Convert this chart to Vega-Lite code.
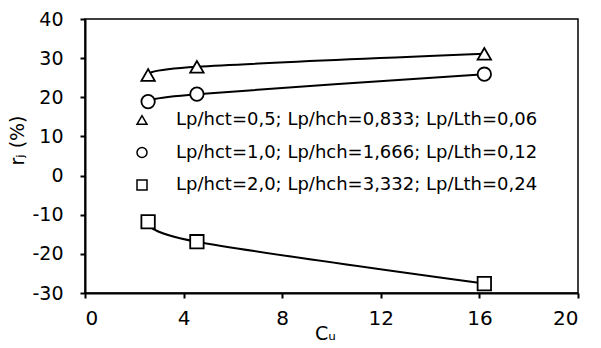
{
  "$schema": "https://vega.github.io/schema/vega-lite/v6.json",
  "autosize": {"type": "none"},
  "width": 493,
  "height": 274,
  "padding": {"left": 85, "top": 19, "right": 23, "bottom": 55},
  "background": "white",
  "config": {
    "view": {"stroke": "black", "strokeWidth": 1.5},
    "font": "DejaVu Sans",
    "axis": {
      "grid": false,
      "domainColor": "black",
      "domainWidth": 2,
      "tickColor": "black",
      "tickWidth": 2,
      "tickSize": 5,
      "labelColor": "black",
      "labelFont": "DejaVu Sans",
      "labelFontSize": 19,
      "titleFont": "DejaVu Sans",
      "titleFontSize": 19,
      "titleFontWeight": "normal",
      "titleColor": "black"
    }
  },
  "data": {
    "values": [
      {"series": "Lp/hct=0,5; Lp/hch=0,833; Lp/Lth=0,06", "cu": 2.56, "rj": 25.7},
      {"series": "Lp/hct=0,5; Lp/hch=0,833; Lp/Lth=0,06", "cu": 4.54, "rj": 27.8},
      {"series": "Lp/hct=0,5; Lp/hch=0,833; Lp/Lth=0,06", "cu": 16.2, "rj": 31.1},
      {"series": "Lp/hct=1,0; Lp/hch=1,666; Lp/Lth=0,12", "cu": 2.56, "rj": 18.9},
      {"series": "Lp/hct=1,0; Lp/hch=1,666; Lp/Lth=0,12", "cu": 4.54, "rj": 20.8},
      {"series": "Lp/hct=1,0; Lp/hch=1,666; Lp/Lth=0,12", "cu": 16.2, "rj": 25.9},
      {"series": "Lp/hct=2,0; Lp/hch=3,332; Lp/Lth=0,24", "cu": 2.56, "rj": -11.8},
      {"series": "Lp/hct=2,0; Lp/hch=3,332; Lp/Lth=0,24", "cu": 4.54, "rj": -16.9},
      {"series": "Lp/hct=2,0; Lp/hch=3,332; Lp/Lth=0,24", "cu": 16.2, "rj": -27.6}
    ]
  },
  "encoding": {
    "x": {
      "field": "cu", "type": "quantitative",
      "scale": {"domain": [0, 20], "nice": false, "zero": false},
      "axis": {"values": [0, 4, 8, 12, 16, 20], "title": "Cᵤ", "labelPadding": 10, "labelFontSize": 20,
               "titleX": 240, "titleY": 46, "titleBaseline": "alphabetic", "titleAlign": "center"}
    },
    "y": {
      "field": "rj", "type": "quantitative",
      "scale": {"domain": [-30, 40], "nice": false, "zero": false},
      "axis": {"values": [-30, -20, -10, 0, 10, 20, 30, 40], "title": "rⱼ (%)", "labelPadding": 17,
               "labelExpr": "toString(datum.value)",
               "titleX": -62, "titleY": 121, "titleBaseline": "alphabetic", "titleAlign": "center", "titleAngle": 270}
    }
  },
  "layer": [
    {
      "mark": {"type": "line", "interpolate": "cardinal", "color": "black", "strokeWidth": 2},
      "encoding": {"detail": {"field": "series", "type": "nominal"}}
    },
    {
      "mark": {"type": "point", "filled": false, "fill": "white", "fillOpacity": 1, "stroke": "black", "strokeWidth": 1.8, "size": 180, "opacity": 1},
      "encoding": {
        "shape": {
          "field": "series", "type": "nominal",
          "scale": {
            "domain": ["Lp/hct=0,5; Lp/hch=0,833; Lp/Lth=0,06", "Lp/hct=1,0; Lp/hch=1,666; Lp/Lth=0,12", "Lp/hct=2,0; Lp/hch=3,332; Lp/Lth=0,24"],
            "range": ["triangle-up", "circle", "square"]
          },
          "legend": {
            "title": null,
            "orient": "none",
            "legendX": 48,
            "legendY": 92,
            "labelFont": "DejaVu Sans",
            "labelFontSize": 18,
            "labelColor": "black",
            "labelOffset": 25,
            "labelLimit": 500,
            "rowPadding": 14.5
          }
        }
      }
    }
  ]
}
